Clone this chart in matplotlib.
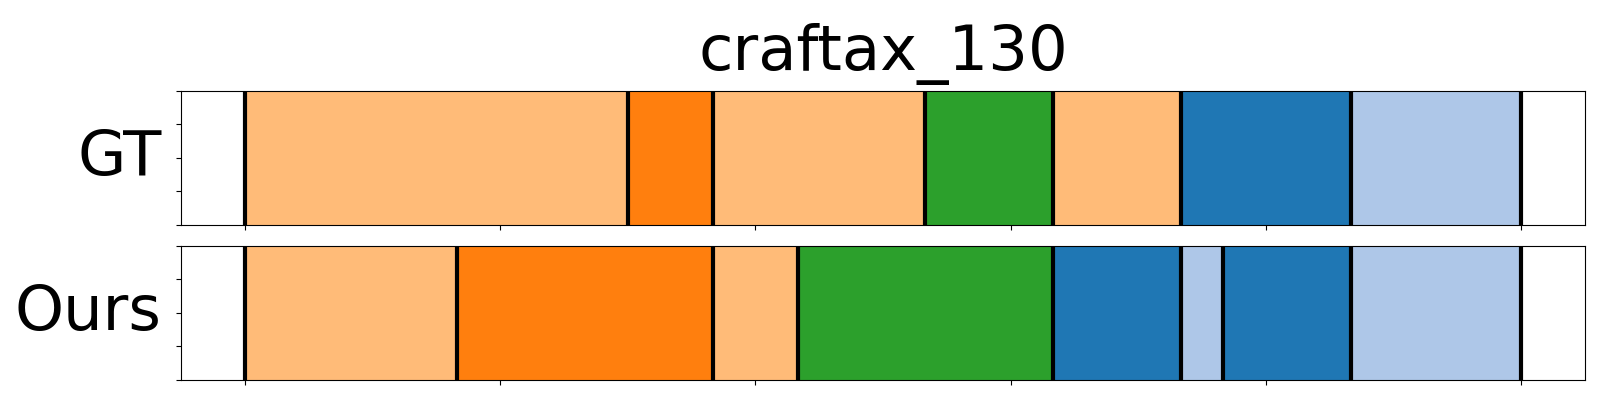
import numpy as np
import matplotlib
matplotlib.use('Agg')
from matplotlib import pyplot as plt

title = 'craftax_130'
n_frames = 30
rows = ['GT', 'Ours']

# segment boundaries (frame index) and colours per row
gt_bounds = [0, 9, 11, 16, 19, 22, 26, 30]
gt_colors = ['#ffbb78', '#ff7f0e', '#ffbb78', '#2ca02c', '#ffbb78', '#1f77b4', '#aec7e8']
ours_bounds = [0, 5, 11, 13, 19, 22, 23, 26, 30]
ours_colors = ['#ffbb78', '#ff7f0e', '#ffbb78', '#2ca02c', '#1f77b4', '#aec7e8', '#1f77b4', '#aec7e8']

fig = plt.figure(figsize=(16, 4), dpi=100)
ax1 = fig.add_axes([0.113, 0.4375, 0.8776, 0.3355])
ax2 = fig.add_axes([0.113, 0.05, 0.8776, 0.336])

for ax, name, bounds, colors in [(ax1, rows[0], gt_bounds, gt_colors),
                                 (ax2, rows[1], ours_bounds, ours_colors)]:
    b = np.array(bounds) / n_frames
    ax.barh(0.5, np.diff(b), left=b[:-1], height=1, color=colors)
    for x in b:
        ax.axvline(x, color='black', lw=3)
    ax.set_xlim(-0.05, 1.05)
    ax.set_ylim(0, 1)
    ax.set_yticks(np.linspace(0, 1, 5))
    ax.set_xticks(np.linspace(0, 1, 6))
    ax.set_xticklabels([])
    ax.set_yticklabels([])
    ax.set_ylabel(name, rotation=0, ha='right', va='center', fontsize=45)
    ax.yaxis.set_label_coords(-0.0135, 0.5)

ax1.set_title(title, fontsize=45, pad=15)

plt.savefig('out.png', dpi=100)
